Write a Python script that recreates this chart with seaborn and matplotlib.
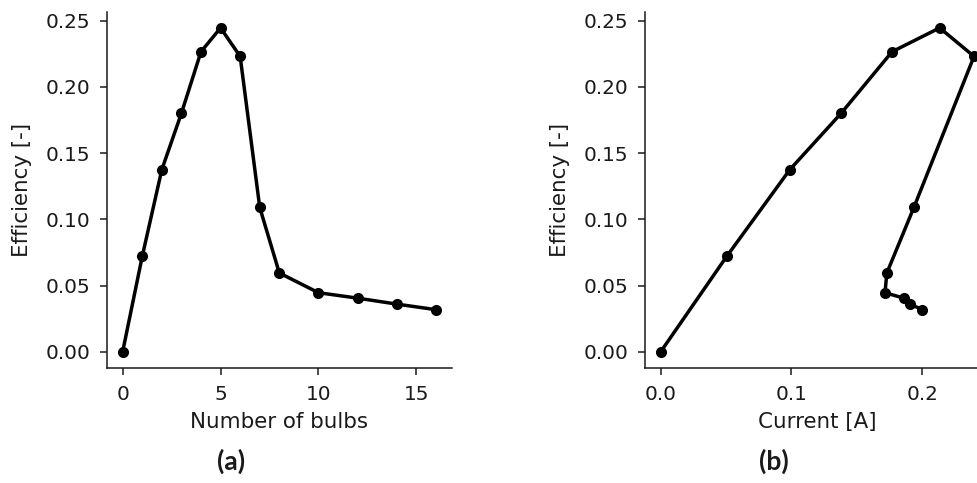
import matplotlib
matplotlib.use("Agg")
import matplotlib.pyplot as plt
import seaborn as sns
import pandas as pd

# measured data
bulbs = [0, 1, 2, 3, 4, 5, 6, 7, 8, 10, 12, 14, 16]
efficiency = [0.0, 0.072, 0.1375, 0.180, 0.2265, 0.2445, 0.223, 0.109,
              0.0595, 0.0446, 0.0405, 0.036, 0.0318]
current = [0.0, 0.0505, 0.0988, 0.138, 0.177, 0.2134, 0.2397, 0.1937,
           0.173, 0.1716, 0.186, 0.191, 0.200]

df = pd.DataFrame({'Bulbs': bulbs, 'Efficiency': efficiency, 'Current': current})

sns.set_style('ticks')
plt.rcParams['font.family'] = ['DejaVu Sans']
plt.rcParams.update({
    'font.size': 14,
    'axes.linewidth': 1.1,
    'xtick.major.size': 4.9,
    'ytick.major.size': 4.9,
    'xtick.major.width': 1.1,
    'ytick.major.width': 1.1,
    'xtick.major.pad': 7,
    'ytick.major.pad': 7,
    'xtick.color': '#1a1a1a',
    'ytick.color': '#1a1a1a',
    'text.color': '#1a1a1a',
    'axes.labelcolor': '#1a1a1a',
    'axes.edgecolor': '#1a1a1a',
})

fig = plt.figure(figsize=(9.77, 4.83), dpi=100)
ax1 = fig.add_axes([0.1095, 0.2381, 0.3528, 0.7377])
ax2 = fig.add_axes([0.6602, 0.2381, 0.3528, 0.7377])

line_kw = dict(color='black', marker='o', markersize=8, linewidth=2.5,
               mec='black', mew=0, sort=False, estimator=None)

sns.lineplot(data=df, x='Bulbs', y='Efficiency', ax=ax1, **line_kw)
ax1.set_xlabel('Number of bulbs', fontsize=15.4, labelpad=6)
ax1.set_ylabel('Efficiency [-]', fontsize=15.4, labelpad=9.5)
ax1.set_xticks([0, 5, 10, 15])

sns.lineplot(data=df, x='Current', y='Efficiency', ax=ax2, **line_kw)
ax2.set_xlabel('Current [A]', fontsize=15.4, labelpad=6)
ax2.set_ylabel('Efficiency [-]', fontsize=15.4, labelpad=9.5)
ax2.set_xticks([0.0, 0.1, 0.2])

for ax in (ax1, ax2):
    ax.set_yticks([0.0, 0.05, 0.10, 0.15, 0.20, 0.25])
    ax.tick_params(labelsize=14.4)
    sns.despine(ax=ax)

fig.text(231 / 977, 1 - 461 / 483, '(a)', ha='center', va='center',
         fontsize=19, fontweight='bold', family=['Lato', 'DejaVu Sans'])
fig.text(774 / 977, 1 - 461 / 483, '(b)', ha='center', va='center',
         fontsize=19, fontweight='bold', family=['Lato', 'DejaVu Sans'])

fig.savefig('out.png', dpi=100)
